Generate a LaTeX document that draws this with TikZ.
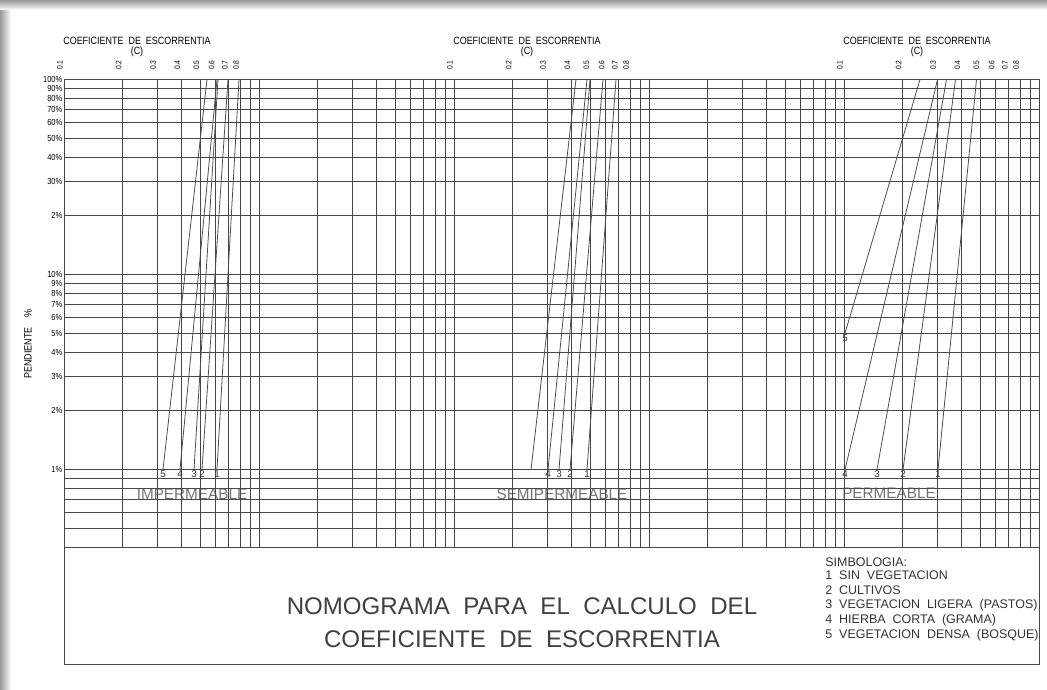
\documentclass[tikz,border=0pt]{standalone}
\usepackage{fontspec}
\setmainfont{Liberation Sans}
\newfontfamily\cadfont[WordSpace=2]{Liberation Sans}
\newfontfamily\cadnarrow[FakeStretch=0.85,WordSpace=2]{Liberation Sans}

\begin{document}
\begin{tikzpicture}[x=0.02cm, y=-0.02cm,
  gridline/.style={line width=0.55pt, black!72},
  curveline/.style={line width=0.45pt, black!70},
  ticklabel/.style={font=\cadnarrow\fontsize{4.5}{5}\selectfont, rotate=90, inner sep=0.5pt},
  axislabel/.style={font=\cadnarrow\fontsize{5}{6}\selectfont, anchor=east, inner sep=0.5pt},
  headlabel/.style={font=\cadnarrow\fontsize{6}{7}\selectfont, inner sep=0.5pt},
  curvelabel/.style={font=\cadfont\fontsize{5.6}{6}\selectfont, anchor=north, inner sep=0.4pt, text=black!80},
  zonelabel/.style={font=\cadfont\fontsize{8.7}{10}\selectfont, text=black!55, inner sep=0pt},
  titletext/.style={font=\cadfont\fontsize{13.7}{15}\selectfont, text=black!75},
  legendtext/.style={font=\cadfont\fontsize{7.1}{8}\selectfont, anchor=west, text=black!80, inner sep=0pt}]

  \useasboundingbox (0,0) rectangle (1047,689);

  % Frame shadow
  \shade[left color=black!40, right color=white] (0,0) rectangle (11,689);
  \shade[top color=black!40, bottom color=white] (0,0) rectangle (1047,10);

  % Soil type names (under the grid)
  \node[zonelabel] (imper) at (192,494) {IMPERMEABLE};
  \node[zonelabel] (semi) at (562,494) {SEMIPERMEABLE};
  \node[zonelabel] (perm) at (889,493) {PERMEABLE};

  % Vertical grid: 5 log cycles of C
  \foreach \k in {0,...,4}{
    \foreach \m in {1,...,9}{
      \draw[gridline] ({64+195*(\k+log10(\m))},79.5) -- ({64+195*(\k+log10(\m))},547.1);
    }
  }
  \draw[gridline] (1039,79.5) -- (1039,664);

  % Horizontal grid: slope in %
  \foreach \p in {100,90,80,70,60,50,40,30,20,10,9,8,7,6,5,4,3,2,1,0.9,0.8,0.7,0.6,0.5,0.4}{
    \draw[gridline] (64,{79.5+195*(2-log10(\p))}) -- (1039,{79.5+195*(2-log10(\p))});
  }

  % Slope labels
  \foreach \p/\lab in {100/100,90/90,80/80,70/70,60/60,50/50,40/40,30/30,20/2,10/10,9/9,8/8,7/7,6/6,5/5,4/4,3/3,2/2,1/1}{
    \node[axislabel] (pct-\p) at (63.5,{79.5+195*(2-log10(\p))}) {\lab\%};
  }
  \node[headlabel, rotate=90] (pend) at (28,344) {PENDIENTE\ \ \%};

  % Headings and C scales
  \foreach \i in {0,1,2}{
    \node[headlabel] (coef-\i) at ({137+390*\i},41) {COEFICIENTE DE ESCORRENTIA};
    \node[headlabel] (cc-\i) at ({137+390*\i},51.5) {(C)};
    \foreach \m in {1,...,8}{
      \node[ticklabel] (c\i-\m) at ({60+195*(2*\i+log10(\m))},65) {0.\m};
    }
  }

  % Impermeable curves
  \foreach \xa/\xb/\n in {163/207/5,180/217/4,194/218/3,202/228/2,217/239/1}{
    \draw[curveline] (\xa,469.5) -- (\xb,79.5);
    \node[curvelabel] (imp-\n) at (\xa,470) {\n};
  }

  % Semipermeable curves
  \draw[curveline] (531,469.5) -- (576,79.5);
  \foreach \xa/\xb/\n in {548/587/4,559/590/3,570/603/2,587/616/1}{
    \draw[curveline] (\xa,469.5) -- (\xb,79.5);
    \node[curvelabel] (semi-\n) at (\xa,470) {\n};
  }

  % Permeable curves
  \draw[curveline] (845,333.2) -- (920,79.5);
  \node[curvelabel] (perm-5) at (845,333.7) {5};
  \foreach \xa/\xb/\n in {845/937.5/4,877/946.5/3,903/955.5/2,938/976.5/1}{
    \draw[curveline] (\xa,469.5) -- (\xb,79.5);
    \node[curvelabel] (perm-\n) at (\xa,470) {\n};
  }

  % Title box
  \draw[gridline] (64,547.1) rectangle (1039,664);
  \node[titletext] (title1) at (522,606) {NOMOGRAMA PARA EL CALCULO DEL};
  \node[titletext] (title2) at (522,639) {COEFICIENTE DE ESCORRENTIA};

  % Legend
  \node[legendtext] (simb) at (825,562) {SIMBOLOGIA:};
  \node[legendtext] (leg1) at (825,575) {1 SIN VEGETACION};
  \node[legendtext] (leg2) at (825,590) {2 CULTIVOS};
  \node[legendtext] (leg3) at (825,605.5) {3 VEGETACION LIGERA (PASTOS)};
  \node[legendtext] (leg4) at (825,620.5) {4 HIERBA CORTA (GRAMA)};
  \node[legendtext] (leg5) at (825,635.5) {5 VEGETACION DENSA (BOSQUE)};

\end{tikzpicture}
\end{document}
